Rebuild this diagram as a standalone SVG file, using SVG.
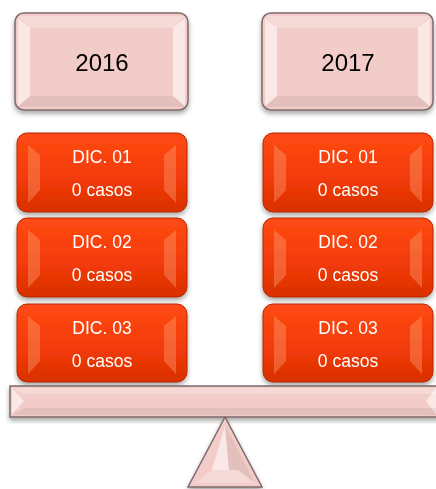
<svg xmlns="http://www.w3.org/2000/svg" width="436" height="489" viewBox="0 0 436 489">
<defs>
<linearGradient id="gRed" x1="0" y1="0" x2="0" y2="1">
<stop offset="0" stop-color="#ff4a14"/><stop offset="0.6" stop-color="#f23a08"/><stop offset="1" stop-color="#d83000"/>
</linearGradient>
<filter id="sh" x="-10%" y="-10%" width="120%" height="130%">
<feGaussianBlur in="SourceAlpha" stdDeviation="2.5"/><feOffset dy="3"/>
<feComponentTransfer><feFuncA type="linear" slope="0.35"/></feComponentTransfer>
<feMerge><feMergeNode/><feMergeNode in="SourceGraphic"/></feMerge>
</filter>
</defs>
<style>
.pink{fill:#f2ccc8;stroke:#7d6a6a;stroke-width:1.5}
.red{fill:url(#gRed);stroke:#b02800;stroke-width:1}
.hl{fill:#ffffff;opacity:0.55}
.lt{fill:#ffffff;opacity:0.25}
.dk{fill:#000000;opacity:0.06}
.rhl{fill:#ffb080;opacity:0.35}
.yt{font-family:"Liberation Sans",Arial,sans-serif;font-size:24px;fill:#000;text-anchor:middle}
.dt{font-family:"Liberation Sans",Arial,sans-serif;font-size:17.5px;fill:#fff;text-anchor:middle}
</style>

<g id="year2016" filter="url(#sh)">
<rect class="pink" x="15" y="13" width="173" height="97" rx="9"/>
<polygon class="lt" points="18,16 185,16 173,28 30,28"/>
<polygon class="hl" points="18,18 30,28 30,96 18,106"/>
<polygon class="hl" points="185,18 173,28 173,96 185,106"/>
<polygon class="dk" points="18,107 30,96 173,96 185,107"/>
<text class="yt" x="102" y="71">2016</text>
</g>
<g id="year2017" filter="url(#sh)">
<rect class="pink" x="262" y="13" width="171" height="97" rx="9"/>
<polygon class="lt" points="265,16 430,16 418,28 277,28"/>
<polygon class="hl" points="265,18 277,28 277,96 265,106"/>
<polygon class="hl" points="430,18 418,28 418,96 430,106"/>
<polygon class="dk" points="265,107 277,96 418,96 430,107"/>
<text class="yt" x="348" y="71">2017</text>
</g>

<g id="l1" filter="url(#sh)">
<rect class="red" x="17" y="133" width="170" height="79" rx="10"/>
<polygon class="rhl" points="28,145 40,155 40,190 28,203"/>
<polygon class="rhl" points="176,145 164,155 164,190 176,203"/>
<text class="dt" x="102" y="163">DIC. 01</text>
<text class="dt" x="102" y="196">0 casos</text>
</g>
<g id="l2" filter="url(#sh)">
<rect class="red" x="17" y="218" width="170" height="79" rx="10"/>
<polygon class="rhl" points="28,230 40,240 40,275 28,288"/>
<polygon class="rhl" points="176,230 164,240 164,275 176,288"/>
<text class="dt" x="102" y="248">DIC. 02</text>
<text class="dt" x="102" y="281">0 casos</text>
</g>
<g id="l3" filter="url(#sh)">
<rect class="red" x="17" y="304" width="170" height="78" rx="10"/>
<polygon class="rhl" points="28,316 40,326 40,361 28,374"/>
<polygon class="rhl" points="176,316 164,326 164,361 176,374"/>
<text class="dt" x="102" y="334">DIC. 03</text>
<text class="dt" x="102" y="367">0 casos</text>
</g>

<g id="r1" filter="url(#sh)">
<rect class="red" x="263" y="133" width="170" height="79" rx="10"/>
<polygon class="rhl" points="274,145 286,155 286,190 274,203"/>
<polygon class="rhl" points="422,145 410,155 410,190 422,203"/>
<text class="dt" x="348" y="163">DIC. 01</text>
<text class="dt" x="348" y="196">0 casos</text>
</g>
<g id="r2" filter="url(#sh)">
<rect class="red" x="263" y="218" width="170" height="79" rx="10"/>
<polygon class="rhl" points="274,230 286,240 286,275 274,288"/>
<polygon class="rhl" points="422,230 410,240 410,275 422,288"/>
<text class="dt" x="348" y="248">DIC. 02</text>
<text class="dt" x="348" y="281">0 casos</text>
</g>
<g id="r3" filter="url(#sh)">
<rect class="red" x="263" y="304" width="170" height="78" rx="10"/>
<polygon class="rhl" points="274,316 286,326 286,361 274,374"/>
<polygon class="rhl" points="422,316 410,326 410,361 422,374"/>
<text class="dt" x="348" y="334">DIC. 03</text>
<text class="dt" x="348" y="367">0 casos</text>
</g>

<g id="beam" filter="url(#sh)">
<rect class="pink" x="10" y="386" width="440" height="31"/>
<polygon class="lt" points="12,388 450,388 450,394 24,394"/>
<polygon class="hl" points="12,388 24,401 12,414"/>
<polygon class="hl" points="436,388 426,401 436,414"/>
<polygon class="dk" points="12,415 24,408 450,408 450,415"/>
</g>

<g id="fulcrum" filter="url(#sh)">
<polygon class="pink" points="225,417 262,487 188,487"/>
<polygon class="hl" points="225,425 229,470 212,470"/>
<polygon class="dk" points="225,425 255,483 238,470 229,470"/>
<polygon class="lt" points="196,483 212,470 238,470 255,483"/>
</g>
</svg>
